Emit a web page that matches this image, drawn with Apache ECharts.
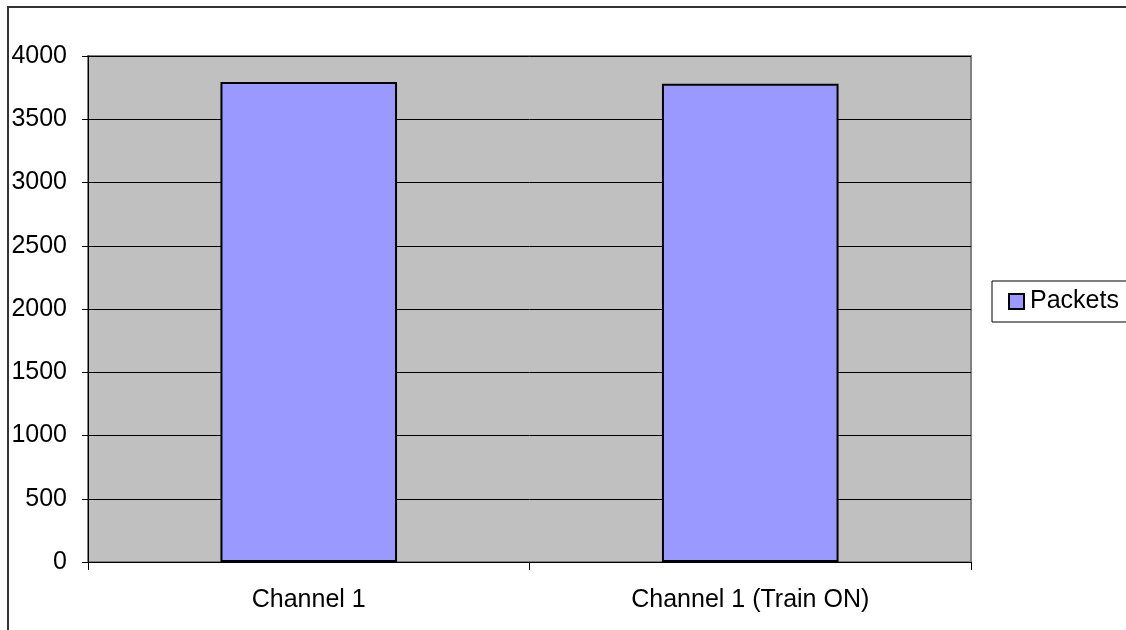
<!DOCTYPE html>
<html>
<head>
<meta charset="utf-8">
<script src="https://cdn.jsdelivr.net/npm/echarts@6/dist/echarts.min.js"></script>
<style>
  html, body { margin: 0; padding: 0; background: #ffffff; }
  #chart { width: 1126px; height: 630px; }
</style>
</head>
<body>
<div id="chart"></div>
<script>
// Packet counts per channel
const categories = ['Channel 1', 'Channel 1 (Train ON)'];
const packets = [3795, 3780];
const seriesName = 'Packets';

const FONT = '"Liberation Sans", Arial, sans-serif';
const FONT_SIZE = 25;

const chart = echarts.init(document.getElementById('chart'), null, { renderer: 'canvas' });

chart.setOption({
  backgroundColor: '#ffffff',
  animation: false,
  textStyle: { fontFamily: FONT, color: '#000' },
  graphic: [
    {
      // chart area frame
      type: 'rect',
      shape: { x: 8, y: 7, width: 1130, height: 640 },
      style: { fill: 'none', stroke: '#333333', lineWidth: 2 },
      silent: true,
      z: 100
    }
  ],
  grid: {
    left: 88,
    right: 155,
    top: 56,
    bottom: 68,
    show: true,
    backgroundColor: '#C0C0C0',
    borderColor: '#808080',
    borderWidth: 2
  },
  legend: {
    data: [seriesName],
    left: 992,
    top: 281,
    orient: 'vertical',
    icon: 'rect',
    itemWidth: 15,
    itemHeight: 15,
    itemGap: 0,
    padding: [8, 40, 8, 16],
    borderColor: '#000',
    borderWidth: 1,
    backgroundColor: '#fff',
    textStyle: { fontFamily: FONT, fontSize: FONT_SIZE, color: '#000', padding: [0, 0, 0, 1] }
  },
  xAxis: {
    type: 'category',
    data: categories,
    axisLine: { show: true, lineStyle: { color: '#000', width: 1 } },
    axisTick: { show: true, length: 8, lineStyle: { color: '#000' } },
    axisLabel: { fontFamily: FONT, fontSize: FONT_SIZE, color: '#000', margin: 26 },
    splitLine: { show: false }
  },
  yAxis: {
    type: 'value',
    min: 0,
    max: 4000,
    interval: 500,
    axisLine: { show: true, lineStyle: { color: '#000', width: 1 } },
    axisTick: { show: true, length: 6, lineStyle: { color: '#000' } },
    axisLabel: {
      fontFamily: FONT, fontSize: FONT_SIZE, color: '#000', margin: 21,
      formatter: (v) => String(v)
    },
    splitLine: { show: true, lineStyle: { color: '#000', width: 1 } }
  },
  series: [
    {
      name: seriesName,
      type: 'bar',
      data: packets,
      barWidth: '40%',
      itemStyle: { color: '#9999FF', borderColor: '#000', borderWidth: 2 }
    }
  ]
});
</script>
</body>
</html>
